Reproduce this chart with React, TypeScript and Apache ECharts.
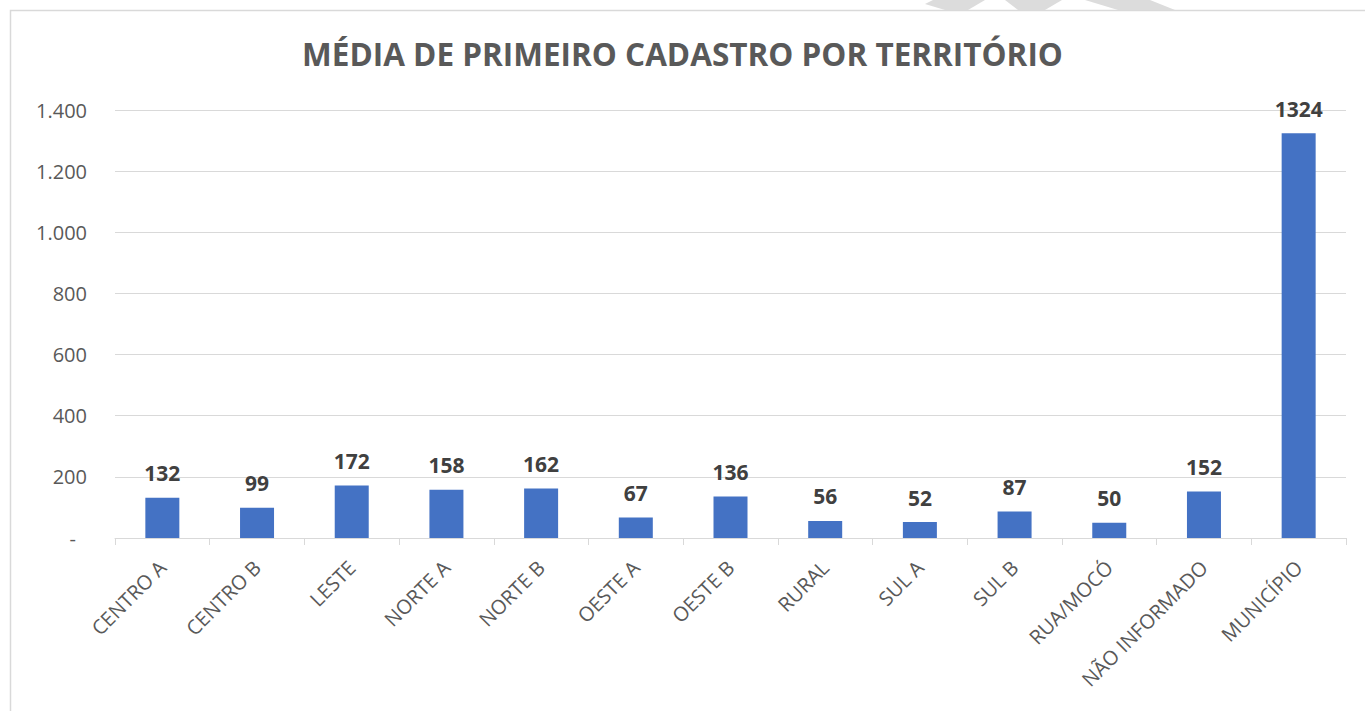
import React, { useEffect, useRef } from "react";
import * as echarts from "echarts";

const categories = [
  "CENTRO A", "CENTRO B", "LESTE", "NORTE A", "NORTE B", "OESTE A", "OESTE B",
  "RURAL", "SUL A", "SUL B", "RUA/MOCÓ", "NÃO INFORMADO", "MUNICÍPIO",
];
const values = [132, 99, 172, 158, 162, 67, 136, 56, 52, 87, 50, 152, 1324];
const titleText = "MÉDIA DE PRIMEIRO CADASTRO POR TERRITÓRIO";
const yMin = 0;
const yMax = 1400;
const yInterval = 200;

const FONT = "'Open Sans', 'Noto Sans', sans-serif";

function formatY(v: number): string {
  if (v === 0) return "{d|-}";
  return String(v).replace(/\B(?=(\d{3})+(?!\d))/g, ".");
}

export default function App() {
  const ref = useRef<HTMLDivElement>(null);
  useEffect(() => {
    if (!ref.current) return;
    const chart = echarts.init(ref.current, null, { renderer: "svg" });
    chart.setOption({
      animation: false,
      backgroundColor: "#ffffff",
      title: {
        text: titleText,
        left: "center",
        top: 32,
        textStyle: {
          fontFamily: FONT,
          fontWeight: "bold",
          fontSize: 31.5,
          color: "#595959",
        },
      },
      grid: { left: 115, right: 19, top: 110, bottom: 711 - 538 },
      xAxis: {
        type: "category",
        data: categories,
        axisLine: { show: true, lineStyle: { color: "#d9d9d9", width: 1 } },
        axisTick: { show: true, length: 7, lineStyle: { color: "#d9d9d9" } },
        axisLabel: {
          rotate: 45,
          margin: 26,
          interval: 0,
          fontFamily: FONT,
          fontSize: 20,
          color: "#595959",
        },
      },
      yAxis: {
        type: "value",
        min: yMin,
        max: yMax,
        interval: yInterval,
        axisLine: { show: false },
        axisTick: { show: false },
        splitLine: { show: true, lineStyle: { color: "#d9d9d9", width: 1 } },
        axisLabel: {
          margin: 28,
          fontFamily: FONT,
          fontSize: 20,
          color: "#595959",
          formatter: formatY,
          rich: {
            d: {
              fontFamily: FONT,
              fontSize: 20,
              color: "#595959",
              padding: [0, 11, 0, 0],
            },
          },
        },
      },
      series: [
        {
          type: "bar",
          data: values,
          barWidth: 34,
          itemStyle: { color: "#4472c4" },
          label: {
            show: true,
            position: "top",
            distance: 14,
            fontFamily: FONT,
            fontWeight: "bold",
            fontSize: 21,
            color: "#404040",
          },
        },
      ],
      graphic: [
        {
          type: "rect",
          z: -10,
          silent: true,
          shape: { x: 10.5, y: 10.5, width: 1400, height: 760 },
          style: { fill: "none", stroke: "#d9d9d9", lineWidth: 1.5 },
        },
        {
          type: "polygon",
          silent: true,
          shape: { points: [[925, 4], [933, 0], [985, 0], [968, 10], [945, 10]] },
          style: { fill: "#dcdcdc" },
        },
        {
          type: "polygon",
          silent: true,
          shape: { points: [[1005, 0], [1062, 0], [1045, 10], [1018, 10]] },
          style: { fill: "#dcdcdc" },
        },
        {
          type: "polygon",
          silent: true,
          shape: { points: [[1085, 0], [1150, 0], [1175, 10], [1118, 10]] },
          style: { fill: "#dcdcdc" },
        },
      ],
    });
    return () => chart.dispose();
  }, []);
  return (
    <div
      ref={ref}
      style={{ position: "absolute", left: 0, top: 0, width: 1365, height: 711, background: "#fff" }}
    />
  );
}
